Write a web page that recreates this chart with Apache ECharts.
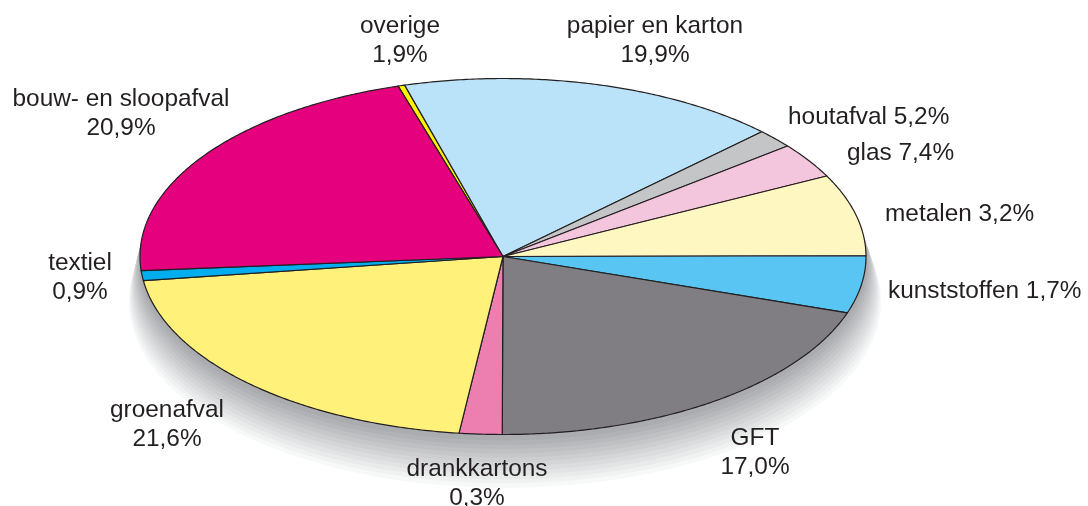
<!DOCTYPE html>
<html>
<head>
<meta charset="utf-8">
<style>
  html, body { margin: 0; padding: 0; background: #fff; }
  #chart { width: 1088px; height: 506px; }
</style>
<script src="https://cdn.jsdelivr.net/npm/echarts@6/dist/echarts.min.js"></script>
</head>
<body>
<div id="chart"></div>
<script>
// afvalsoorten, met de klok mee vanaf de bovenkant
var names = ['overige', 'papier en karton', 'houtafval', 'glas', 'metalen', 'kunststoffen', 'GFT', 'drankkartons', 'groenafval', 'textiel', 'bouw- en sloopafval'];
// tekst bij de labels (zo gedrukt in het origineel)
var labels = ['1,9%', '19,9%', '5,2%', '7,4%', '3,2%', '1,7%', '17,0%', '0,3%', '21,6%', '0,9%', '20,9%'];
// grootte van de taartpunten zoals getekend (wijkt af van de labels)
var shares = [0.3, 17.0, 1.7, 3.2, 7.4, 5.2, 19.9, 1.9, 20.9, 0.9, 21.6];
var colors = ['#fff200', '#bae3f9', '#c4c5c7', '#f4c6de', '#fff7c2', '#59c5f3', '#807e83', '#ec7fb0', '#fff17a', '#00aeef', '#e5007d'];

// label plek: x, y (midden), uitlijning, op een of twee regels
var labelPos = [
  [400, 41, 'center', 2], [655, 41, 'center', 2], [788, 117, 'left', 1], [847, 153, 'left', 1],
  [885, 214, 'left', 1], [888, 291, 'left', 1], [755, 453, 'center', 2], [477, 484, 'center', 2],
  [167, 425, 'center', 2], [80, 278, 'center', 2], [121, 114, 'center', 2]
];

var START_ANGLE = 106.8;
var ellipse = { cx: 503, cy: 256.5, rx: 363, ry: 178 };
var total = shares.reduce(function (a, b) { return a + b; }, 0);

function slicePoints(idx) {
  var before = 0;
  for (var i = 0; i < idx; i++) before += shares[i];
  var a0 = START_ANGLE - before / total * 360;
  var a1 = a0 - shares[idx] / total * 360;
  var pts = [[ellipse.cx, ellipse.cy]];
  var n = Math.max(2, Math.ceil((a0 - a1) * 2));
  for (var k = 0; k <= n; k++) {
    var t = (a0 + (a1 - a0) * k / n) * Math.PI / 180;
    pts.push([ellipse.cx + ellipse.rx * Math.cos(t), ellipse.cy - ellipse.ry * Math.sin(t)]);
  }
  return pts;
}

// schaduw: trapjes van licht naar donker
var shadowSteps = ['#f7f8f8', '#f0f1f1', '#e9eaea', '#e2e3e4', '#dbdcdd', '#d4d5d6', '#cdced0', '#c6c7c9', '#bfc0c2', '#b8b9bc', '#b1b2b5', '#abacaf'];

var chart = echarts.init(document.getElementById('chart'));
chart.setOption({
  animation: false,
  backgroundColor: '#fff',
  series: [
    {
      type: 'custom',
      coordinateSystem: 'none',
      silent: true,
      z: 1,
      data: shadowSteps,
      renderItem: function (params) {
        // buitenste ellips eerst, elke stap iets kleiner en hoger
        var f = 1 - params.dataIndex / shadowSteps.length;
        var inner = 0.04;
        return {
          type: 'ellipse',
          shape: {
            cx: ellipse.cx + 2 * f,
            cy: ellipse.cy + 43.5 * (f + inner),
            rx: ellipse.rx + 13 * f,
            ry: ellipse.ry + 8 * f
          },
          style: { fill: shadowSteps[params.dataIndex] }
        };
      }
    },
    {
      type: 'custom',
      coordinateSystem: 'none',
      silent: true,
      z: 2,
      data: shares,
      renderItem: function (params) {
        return {
          type: 'polygon',
          shape: { points: slicePoints(params.dataIndex) },
          style: { fill: colors[params.dataIndex], stroke: '#231f20', lineWidth: 1.2, lineJoin: 'round' }
        };
      }
    },
    {
      type: 'custom',
      coordinateSystem: 'none',
      silent: true,
      z: 3,
      data: names,
      renderItem: function (params) {
        var i = params.dataIndex;
        var p = labelPos[i];
        return {
          type: 'text',
          x: p[0],
          y: p[1],
          style: {
            text: names[i] + (p[3] === 2 ? '\n' : ' ') + labels[i],
            fill: '#231f20',
            font: '24.4px "Liberation Sans", Arial, sans-serif',
            lineHeight: 29,
            align: p[2],
            verticalAlign: 'middle'
          }
        };
      }
    }
  ]
});
</script>
</body>
</html>
